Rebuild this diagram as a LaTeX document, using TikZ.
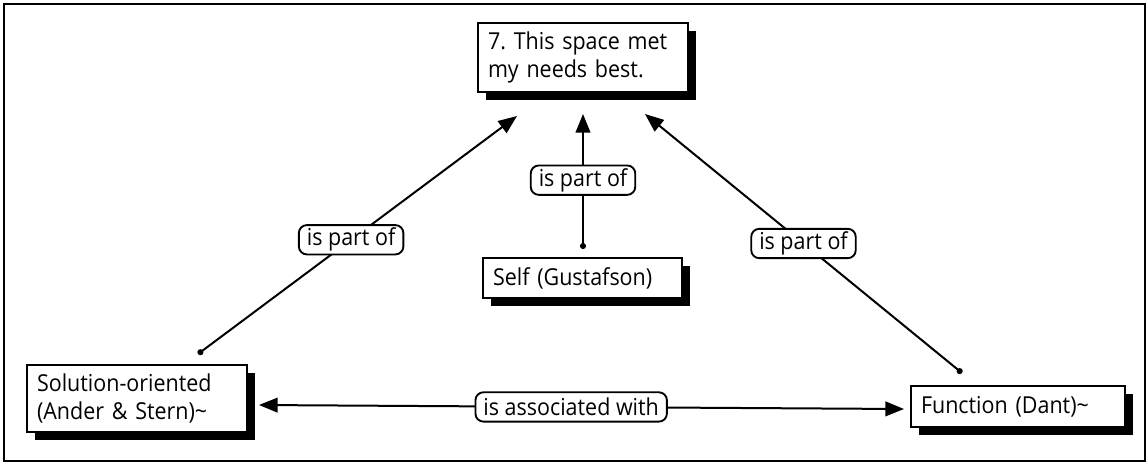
\documentclass[tikz,border=0pt]{standalone}
\usepackage{fontspec}
\setmainfont{Open Sans}[FakeStretch=0.92]
\usetikzlibrary{shadows,arrows.meta}
\frenchspacing
\begin{document}
\begin{tikzpicture}[x=0.75pt,y=-0.75pt,
  font=\fontsize{17.5}{21}\selectfont,
  concept/.style={draw, line width=1.5pt, fill=white, align=left,
    inner xsep=7.5pt, inner ysep=0pt,
    drop shadow={shadow xshift=6pt,shadow yshift=-6pt,fill=black,opacity=1}},
  linklabel/.style={draw, line width=1.4pt, rounded corners=6pt, fill=white,
    inner xsep=6pt, inner ysep=1pt, minimum height=22pt},
  conn/.style={line width=1.5pt, {Circle[length=4.5pt]}-{Triangle[length=14pt,width=11pt]}},
  assoc/.style={line width=1.5pt, {Triangle[length=14pt,width=11pt]}-{Triangle[length=14pt,width=11pt]}}
]
\useasboundingbox (0,0) rectangle (1148,465);
\draw[line width=1.5pt] (4,4) rectangle (1145,461);

% concepts
\node[concept, text width=142.5pt, minimum height=51.75pt] (top) at (583,57.5)
  {7. This space met\\my needs best.};
\node[concept, text width=134.25pt, minimum height=30pt] (self) at (582.5,278)
  {Self (Gustafson)};
\node[concept, text width=150pt, minimum height=50.25pt] (sol) at (137,398.5)
  {Solution-oriented\\(Ander \& Stern)\textasciitilde};
\node[concept, text width=145.5pt, minimum height=30.75pt] (func) at (1018,406.5)
  {Function (Dant)\textasciitilde};

% links
\draw[conn] ([shift={(61,-10)}]sol.north) -- node[linklabel, pos=0.48]{is part of} ([shift={(-66,23)}]top.south);
\draw[conn] ([shift={(0.5,-8)}]self.north) -- node[linklabel, pos=0.51]{is part of} ([shift={(0,21)}]top.south);
\draw[conn] ([shift={(-56,-12)}]func.north) -- node[linklabel, pos=0.5]{is part of} ([shift={(62,21)}]top.south);
\draw[assoc] ([shift={(11,6.5)}]sol.east) -- node[linklabel, pos=0.484]{is associated with} ([shift={(-6,2.5)}]func.west);
\end{tikzpicture}
\end{document}
